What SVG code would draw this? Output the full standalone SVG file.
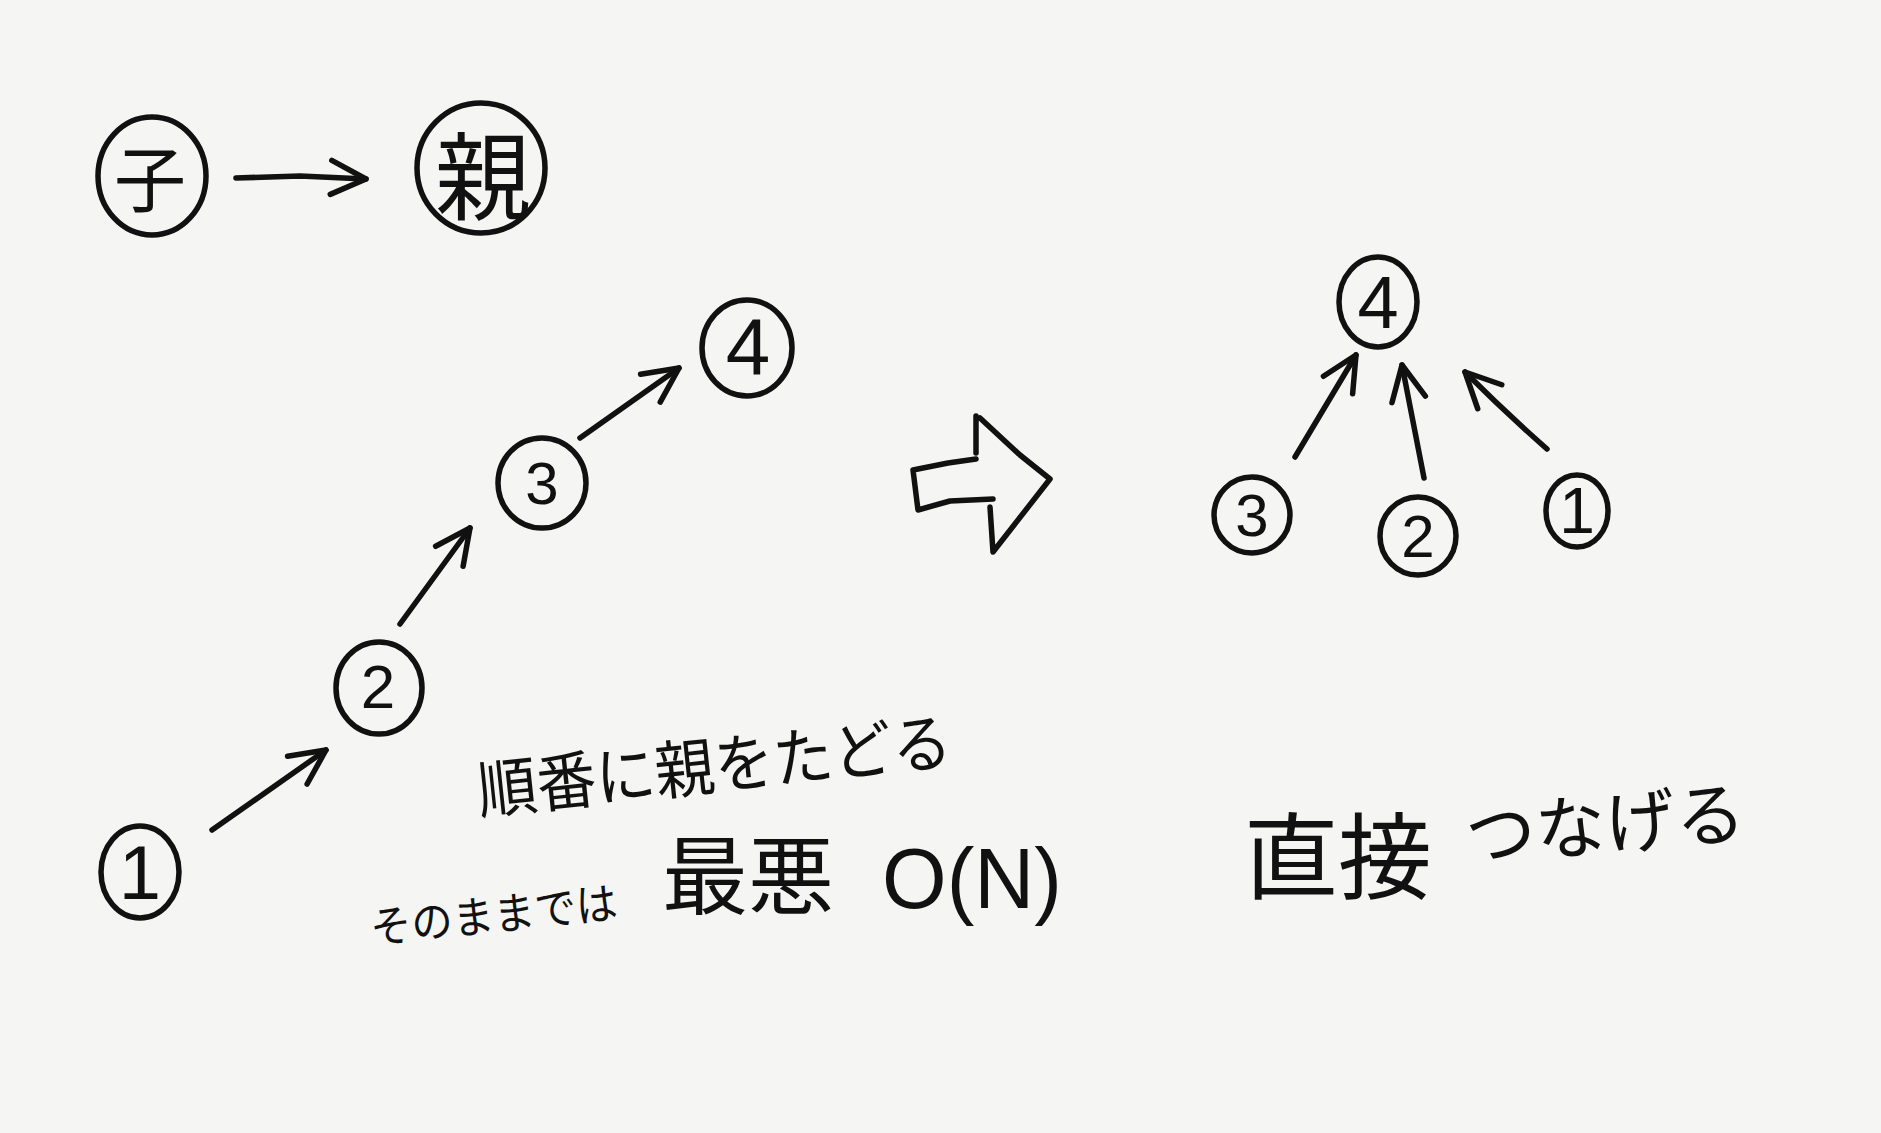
<svg xmlns="http://www.w3.org/2000/svg" width="1881" height="1133" viewBox="0 0 1881 1133">
<style>
.ink{fill:none;stroke:#111;stroke-width:5.5;stroke-linecap:round;stroke-linejoin:round}
.lbl{fill:#111;font-family:"Liberation Sans","Noto Sans CJK JP",sans-serif;text-anchor:middle;dominant-baseline:central}
.jp{fill:#111;font-family:"Noto Sans CJK JP",sans-serif;font-weight:400}
</style>
<defs>
<marker id="ah" markerUnits="userSpaceOnUse" viewBox="0 0 44 44" markerWidth="44" markerHeight="44" refX="40" refY="22" orient="auto">
<path d="M5,5 L40,22 L5,39" fill="none" stroke="#111" stroke-width="5.5" stroke-linecap="round" stroke-linejoin="round"/>
</marker>
</defs>
<rect width="1881" height="1133" fill="#f5f5f3"/>

<g id="child">
<ellipse class="ink" cx="152" cy="176" rx="54" ry="59"/>
<text class="jp" x="150" y="174" font-size="72" text-anchor="middle" dominant-baseline="central">子</text>
</g>
<g id="parent">
<ellipse class="ink" cx="481" cy="168" rx="64" ry="65"/>
<text class="jp" x="483" y="170" font-size="96" text-anchor="middle" dominant-baseline="central">親</text>
</g>

<g id="L1"><ellipse class="ink" cx="140" cy="872" rx="39" ry="46"/><text class="lbl" x="140" y="872" font-size="76">1</text></g>
<g id="L2"><ellipse class="ink" cx="379" cy="688" rx="43" ry="46"/><text class="lbl" x="378" y="686" font-size="62">2</text></g>
<g id="L3"><ellipse class="ink" cx="542" cy="483" rx="44" ry="45"/><text class="lbl" x="542" y="483" font-size="60">3</text></g>
<g id="L4"><ellipse class="ink" cx="747" cy="348" rx="45" ry="48"/><text class="lbl" x="748" y="346" font-size="80">4</text></g>

<g id="R4"><ellipse class="ink" cx="1378" cy="302" rx="39" ry="45"/><text class="lbl" x="1378" y="302" font-size="74">4</text></g>
<g id="R3"><ellipse class="ink" cx="1252" cy="515" rx="38" ry="38"/><text class="lbl" x="1252" y="515" font-size="60">3</text></g>
<g id="R2"><ellipse class="ink" cx="1418" cy="536" rx="38" ry="39"/><text class="lbl" x="1418" y="536" font-size="60">2</text></g>
<g id="R1"><ellipse class="ink" cx="1577" cy="511" rx="31" ry="36"/><text class="lbl" x="1577" y="511" font-size="64">1</text></g>

<g id="connectors">
<path class="ink" d="M236,178 L300,176 L366,179" marker-end="url(#ah)"/>
<path class="ink" d="M212,830 L326,750" marker-end="url(#ah)"/>
<path class="ink" d="M400,624 L470,528" marker-end="url(#ah)"/>
<path class="ink" d="M580,438 L679,368" marker-end="url(#ah)"/>
<path class="ink" d="M1295,457 L1356,355" marker-end="url(#ah)"/>
<path class="ink" d="M1424,478 L1402,365" marker-end="url(#ah)"/>
<path class="ink" d="M1547,449 Q1505,412 1465,372" marker-end="url(#ah)"/>
</g>

<g id="bigArrow">
<path class="ink" d="M976,416 L976,453 M976,459 L948,463 L913,470 L918,510 L950,501 L993,499 M990,507 L993,552 L1050,479 L1020,455 L980,418"/>
</g>

<g id="labels">
<text class="jp" x="480" y="814" font-size="64" transform="rotate(-6 480 814)" textLength="476" lengthAdjust="spacingAndGlyphs">順番に親をたどる</text>
<text class="jp" x="372" y="944" font-size="44" transform="rotate(-6 372 944)" textLength="248" lengthAdjust="spacingAndGlyphs">そのままでは</text>
<text class="jp" x="662" y="908" font-size="86">最悪</text>
<text x="882" y="908" font-size="86" fill="#111" font-family="Liberation Sans, sans-serif" textLength="180" lengthAdjust="spacingAndGlyphs">O(N)</text>
<text class="jp" x="1244" y="892" font-size="94">直接</text>
<text class="jp" x="1468" y="862" font-size="70" transform="rotate(-5 1468 862)">つなげる</text>
</g>
</svg>
